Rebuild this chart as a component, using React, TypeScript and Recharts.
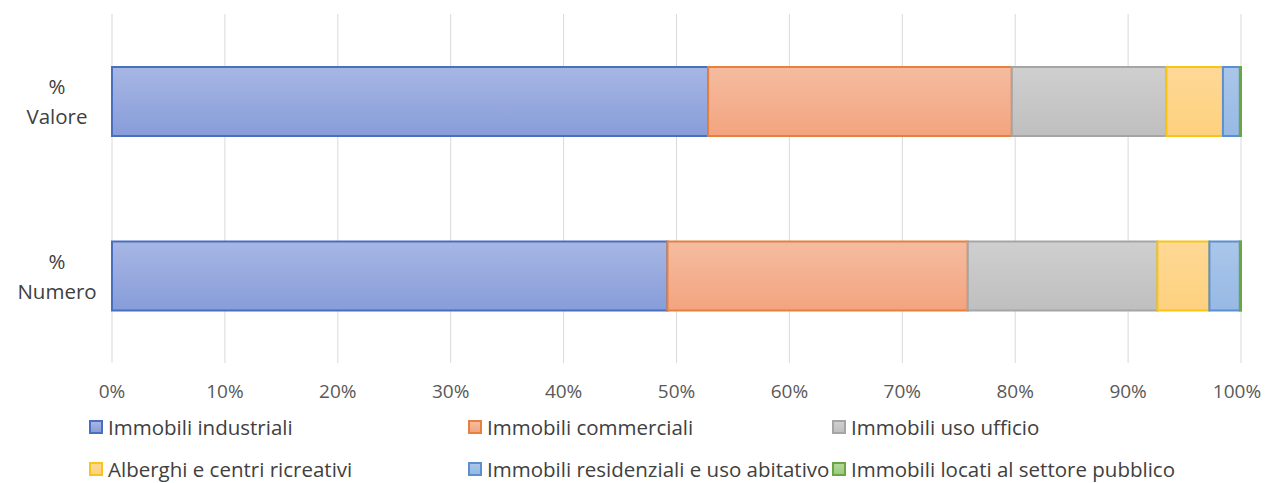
import { BarChart, Bar, XAxis, YAxis, CartesianGrid } from "recharts";

const categories = ["% Valore", "% Numero"];
const industriali = [52.8, 49.2];
const commerciali = [26.9, 26.6];
const ufficio = [13.7, 16.8];
const alberghi = [5.0, 4.6];
const residenziali = [1.5, 2.7];
const pubblico = [0.1, 0.1];
const xTicks = [0, 0.1, 0.2, 0.3, 0.4, 0.5, 0.6, 0.7, 0.8, 0.9, 1];

const series = [
  { key: "ind", name: "Immobili industriali", values: industriali, top: "#a7b6e4", bottom: "#879dd9", stroke: "#4a6fbf" },
  { key: "com", name: "Immobili commerciali", values: commerciali, top: "#f5bca0", bottom: "#f3a47f", stroke: "#e5803f" },
  { key: "uff", name: "Immobili uso ufficio", values: ufficio, top: "#cfcfcf", bottom: "#bfbfbf", stroke: "#a5a5a5" },
  { key: "alb", name: "Alberghi e centri ricreativi", values: alberghi, top: "#ffd896", bottom: "#fdd17e", stroke: "#f7c51a" },
  { key: "res", name: "Immobili residenziali e uso abitativo", values: residenziali, top: "#aac6ea", bottom: "#97b9e4", stroke: "#5b8fcf" },
  { key: "pub", name: "Immobili locati al settore pubblico", values: pubblico, top: "#b3d89a", bottom: "#9ccb7e", stroke: "#6aa744" },
];

const data = categories.map((c, i) => {
  const row: any = { name: c };
  series.forEach((s) => (row[s.key] = s.values[i]));
  return row;
});

const FONT = "'Open Sans', sans-serif";
const FS = 20.5;

const YTick = (props: any) => {
  const { y, payload } = props;
  const [pct, word] = payload.value.split(" ");
  return (
    <text x={57} y={y} textAnchor="middle" fill="#404040" fontSize={FS} fontFamily={FONT}>
      <tspan x={57} dy={-7}>{pct}</tspan>
      <tspan x={57} dy={30}>{word}</tspan>
    </text>
  );
};

// last label pulled in a little so it stays inside the frame
const XTick = (props: any) => {
  const { x, y, payload } = props;
  const shift = payload.value >= 1 ? -4 : 0;
  return (
    <text
      x={x + shift}
      y={y}
      dy="0.71em"
      textAnchor="middle"
      fill="#595959"
      fontSize={19}
      fontFamily={FONT}
    >
      {`${Math.round(payload.value * 100)}%`}
    </text>
  );
};

const legendPos = [
  { left: 89, top: 413 },
  { left: 468, top: 413 },
  { left: 832, top: 413 },
  { left: 89, top: 455 },
  { left: 468, top: 455 },
  { left: 832, top: 455 },
];

export default function App() {
  return (
    <div style={{ position: "relative", width: 1269, height: 483, margin: "-8px 0 0 -8px", background: "#fff", fontFamily: FONT }}>
      <BarChart
        width={1269}
        height={483}
        data={data}
        layout="vertical"
        stackOffset="expand"
        barSize={69}
        margin={{ top: 14, right: 28, bottom: 90, left: 0 }}
      >
        <defs>
          {series.map((s) => (
            <linearGradient key={s.key} id={`g-${s.key}`} x1="0" y1="0" x2="0" y2="1">
              <stop offset="0%" stopColor={s.top} />
              <stop offset="100%" stopColor={s.bottom} />
            </linearGradient>
          ))}
        </defs>
        <CartesianGrid horizontal={false} stroke="#d9d9d9" />
        <XAxis
          type="number"
          domain={[0, 1]}
          ticks={xTicks}
          axisLine={false}
          tickLine={false}
          tickMargin={16}
          height={30}
          interval={0}
          tick={<XTick />}
        />
        <YAxis
          type="category"
          dataKey="name"
          width={112}
          axisLine={false}
          tickLine={false}
          tick={<YTick />}
        />
        {series.map((s) => (
          <Bar
            key={s.key}
            dataKey={s.key}
            name={s.name}
            stackId="a"
            fill={`url(#g-${s.key})`}
            stroke={s.stroke}
            strokeWidth={2}
            isAnimationActive={false}
          />
        ))}
      </BarChart>
      {series.map((s, i) => (
        <div
          key={s.key}
          style={{
            position: "absolute",
            left: legendPos[i].left,
            top: legendPos[i].top,
            display: "flex",
            alignItems: "center",
            fontSize: FS,
            color: "#404040",
            whiteSpace: "nowrap",
          }}
        >
          <span
            style={{
              display: "inline-block",
              width: 10,
              height: 10,
              border: `2px solid ${s.stroke}`,
              background: `linear-gradient(${s.top}, ${s.bottom})`,
              marginRight: 5,
            }}
          />
          {s.name}
        </div>
      ))}
    </div>
  );
}
